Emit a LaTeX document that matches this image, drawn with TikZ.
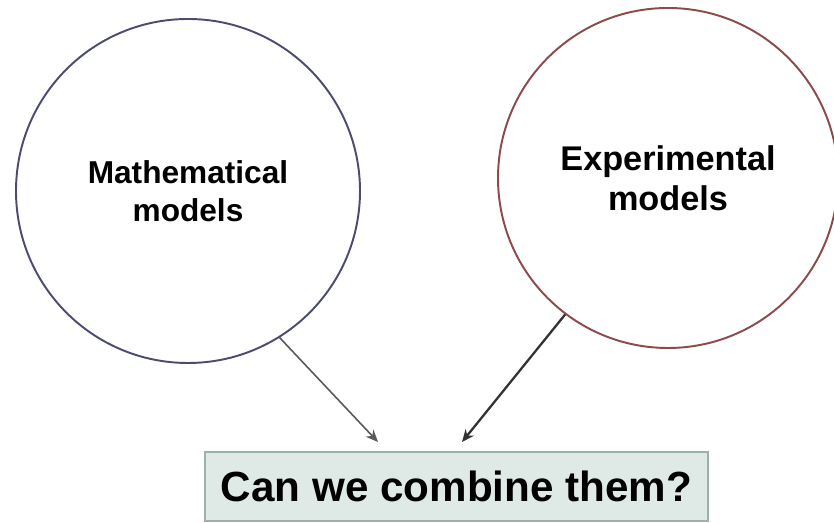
\documentclass[tikz,border=0pt]{standalone}
\usepackage{fontspec}
\setmainfont{Liberation Sans}
\usetikzlibrary{arrows.meta}
\definecolor{mathblue}{HTML}{4C4C72}
\definecolor{exprred}{HTML}{8C4A4A}
\definecolor{boxfill}{HTML}{DFE9E6}
\definecolor{boxline}{HTML}{9DB0AC}
\tikzset{
	modelcircle/.style={circle, draw, line width=1.1pt, inner sep=0pt, align=center},
	questionbox/.style={draw=boxline, fill=boxfill, line width=1.2pt, minimum width=10.06cm, minimum height=1.38cm, inner sep=0pt},
	feedarrow/.style={-{Stealth[length=7pt,width=6pt]}}
}

\begin{document}
\begin{tikzpicture}
			%%%%% FRAME %%%%%
			\useasboundingbox[fill=white] (0, 0) rectangle (16.68, 10.46);
			
			%%%%% MODELS %%%%%
			\node[modelcircle, draw=mathblue, minimum size=6.88cm, font=\fontsize{18}{21.6}\selectfont\bfseries] (math) at (3.76, 6.64)
				{Mathematical\\ models};
			\node[modelcircle, draw=exprred, minimum size=6.8cm, font=\fontsize{19.5}{22.7}\selectfont\bfseries] (expr) at (13.36, 6.90)
				{Experimental\\ models};
			
			%%%%% QUESTION %%%%%
			\node[questionbox, font=\fontsize{24}{28}\selectfont\bfseries] (combine) at (9.13, 0.73)
				{Can we combine them?};
			
			\coordinate (tipmath) at (7.56, 1.62);
			\coordinate (tipexpr) at (9.24, 1.62);
			
			%%%%% ARROWS %%%%%
			\draw[feedarrow, draw=black!65, fill=black!65, line width=0.9pt] (math.-58.5) -- (tipmath);
			\draw[feedarrow, draw=black!80, fill=black!80, line width=1.3pt] (expr.-127) -- (tipexpr);
		\end{tikzpicture}
\end{document}
